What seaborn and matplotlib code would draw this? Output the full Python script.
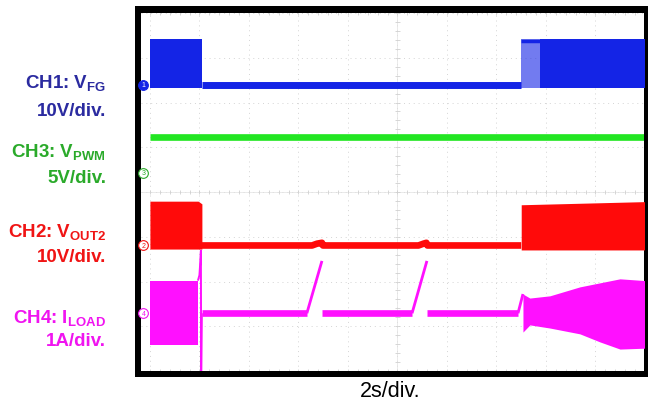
import numpy as np
import pandas as pd
import matplotlib
matplotlib.use("Agg")
import matplotlib.pyplot as plt
import seaborn as sns
from matplotlib.patches import Rectangle

sns.set_style("white")
plt.rcParams["font.family"] = ["Liberation Sans", "DejaVu Sans"]
plt.rcParams["mathtext.fontset"] = "custom"
plt.rcParams["mathtext.rm"] = "Liberation Sans:bold"
plt.rcParams["mathtext.it"] = "Liberation Sans:bold"
plt.rcParams["mathtext.bf"] = "Liberation Sans:bold"
plt.rcParams["lines.solid_capstyle"] = "butt"

# ---- scope settings ----
SEC_PER_DIV = 2.0
N_HDIV = 10
N_VDIV = 8

# channel labels, scales (units/div), screen offsets (div)
ch_names = ["CH1", "CH3", "CH2", "CH4"]
ch_signal = [r"V$_{\mathrm{FG}}$", r"V$_{\mathrm{PWM}}$", r"V$_{\mathrm{OUT2}}$", r"I$_{\mathrm{LOAD}}$"]
ch_scale_text = ["10V/div.", "5V/div.", "10V/div.", "1A/div."]
ch_scale = [10.0, 5.0, 10.0, 1.0]
ch_offset = [2.40, 0.425, -1.195, -2.71]

# ---- CH1: V_FG (V) ----
ch1_line_t = [2.1, 15.0]
ch1_line_v = [0.0, 0.0]
ch1_burst1_t = [0.0, 2.1]
ch1_burst1_hi = [10.3, 10.3]
ch1_burst1_lo = [-0.8, -0.8]
ch1_fade_t = [15.0, 15.76]
ch1_fade_hi = [10.3, 10.3]
ch1_fade_lo = [-0.8, -0.8]
ch1_burst2_t = [15.76, 20.0]
ch1_burst2_hi = [10.3, 10.3]
ch1_burst2_lo = [-0.8, -0.8]

# ---- CH3: V_PWM (V) ----
ch3_t = [0.0, 20.0]
ch3_v = [4.0, 4.0]

# ---- CH2: V_OUT2 (V) ----
ch2_line_t = [2.1, 6.55, 6.75, 6.95, 6.99, 10.85, 11.05, 11.17, 11.21, 15.0]
ch2_line_v = [0.0, 0.0, 0.4, 0.6, 0.0, 0.0, 0.4, 0.6, 0.0, 0.0]
ch2_burst1_t = [0.0, 1.95, 2.1]
ch2_burst1_hi = [9.9, 9.9, 9.3]
ch2_burst1_lo = [-0.8, -0.8, -0.8]
ch2_burst2_t = [15.0, 20.0]
ch2_burst2_hi = [9.1, 9.8]
ch2_burst2_lo = [-1.0, -1.0]

# ---- CH4: I_LOAD (A) ----
ch4_line_t = [2.1, 6.34, np.nan, 6.97, 10.59, np.nan, 11.21, 14.87]
ch4_line_v = [0.0, 0.0, np.nan, 0.0, 0.0, np.nan, 0.0, 0.0]
ch4_ramp_t = [6.34, 6.95, np.nan, 10.59, 11.19, np.nan, 14.87, 15.07]
ch4_ramp_v = [0.0, 1.17, np.nan, 0.0, 1.17, np.nan, 0.0, 0.43]
ch4_burst1_t = [0.0, 1.94]
ch4_burst1_hi = [0.73, 0.73]
ch4_burst1_lo = [-0.72, -0.72]
ch4_spike_t = [1.94, 2.0, 2.03, 2.06, 2.07, 2.1]
ch4_spike_v = [0.73, 0.85, 1.1, 1.40, -1.45, 0.0]
ch4_burst2_t = [15.07, 15.35, 16.16, 17.37, 18.18, 18.99, 20.0]
ch4_burst2_hi = [0.43, 0.34, 0.39, 0.59, 0.68, 0.77, 0.73]
ch4_burst2_lo = [-0.42, -0.26, -0.33, -0.46, -0.64, -0.80, -0.78]

trace_colors = ["#1424E6", "#22E622", "#FF0A0A", "#FF10FF"]
label_colors = ["#2B2BA0", "#2AAA2A", "#F01414", "#F014F0"]

W, H = 648, 402
fig = plt.figure(figsize=(W / 100, H / 100), dpi=100)
fig.patch.set_facecolor("white")


def fx(px):
    return px / W


def fy(py):
    return 1 - py / H


# black screen bezel
fig.add_artist(Rectangle((fx(135), fy(378)), fx(655) - fx(135), fy(7) - fy(378),
                         transform=fig.transFigure, facecolor="black",
                         edgecolor="none", zorder=0))

ax = fig.add_axes([fx(141), fy(372), fx(644) - fx(141), fy(14) - fy(372)])
ax.set_facecolor("white")
ax.set_zorder(1)
t_end = SEC_PER_DIV * N_HDIV
ax.set_xlim(-0.36, 19.96)
ax.set_ylim(-N_VDIV / 2, N_VDIV / 2)
for s in ax.spines.values():
    s.set_visible(False)
ax.set_xticks([])
ax.set_yticks([])

# graticule
grid_kw = dict(color="#d4d4d4", lw=0.7, linestyle=(0, (1, 4)), zorder=1)
for k in range(N_HDIV + 1):
    ax.axvline(k * SEC_PER_DIV, **grid_kw)
for k in range(N_VDIV + 1):
    ax.axhline(k - N_VDIV / 2, **grid_kw)
tick_kw = dict(color="#d0d0d0", lw=0.6, zorder=1)
ax.axvline(t_end / 2, color="#e2e2e2", lw=0.5, zorder=1)
ax.axhline(0, color="#e2e2e2", lw=0.5, zorder=1)
for k in range(N_HDIV * 5 + 1):
    tx = k * SEC_PER_DIV / 5
    for yy in (0, -N_VDIV / 2, N_VDIV / 2):
        ax.plot([tx, tx], [yy - 0.05, yy + 0.05], **tick_kw)
for k in range(N_VDIV * 5 + 1):
    yy = k / 5 - N_VDIV / 2
    ax.plot([t_end / 2 - 0.1, t_end / 2 + 0.1], [yy, yy], **tick_kw)


def to_div(vals, ch):
    return ch_offset[ch] + np.asarray(vals, dtype=float) / ch_scale[ch]


def band(t, hi, lo, ch, alpha=1.0):
    ax.fill_between(t, to_div(hi, ch), to_div(lo, ch), color=trace_colors[ch],
                    lw=0, alpha=alpha, zorder=3)


def trace(t, v, ch, lw):
    t = np.asarray(t, dtype=float)
    y = to_div(v, ch)
    # split at NaN gaps so each segment is drawn on its own
    seg = np.cumsum(np.isnan(t))
    df = pd.DataFrame({"t": t, "y": y, "seg": seg}).dropna()
    for _, part in df.groupby("seg"):
        sns.lineplot(data=part, x="t", y="y", ax=ax, color=trace_colors[ch],
                     lw=lw, estimator=None, sort=False, zorder=3, legend=False)


# CH1
band(ch1_burst1_t, ch1_burst1_hi, ch1_burst1_lo, 0)
band(ch1_fade_t, ch1_fade_hi, ch1_fade_lo, 0, alpha=0.6)
band(ch1_burst2_t, ch1_burst2_hi, ch1_burst2_lo, 0)
trace(ch1_fade_t, [9.8, 9.8], 0, 2.5)
trace(ch1_line_t, ch1_line_v, 0, 5.0)

# CH3
trace(ch3_t, ch3_v, 1, 4.8)

# CH2
band(ch2_burst1_t, ch2_burst1_hi, ch2_burst1_lo, 2)
band(ch2_burst2_t, ch2_burst2_hi, ch2_burst2_lo, 2)
trace(ch2_line_t, ch2_line_v, 2, 4.8)

# CH4
band(ch4_burst1_t, ch4_burst1_hi, ch4_burst1_lo, 3)
band(ch4_burst2_t, ch4_burst2_hi, ch4_burst2_lo, 3)
trace(ch4_spike_t, ch4_spike_v, 3, 1.4)
trace(ch4_line_t, ch4_line_v, 3, 4.8)
trace(ch4_ramp_t, ch4_ramp_v, 3, 2.0)

ax.set_xlabel("")
ax.set_ylabel("")

# channel ground markers
for ch, num in zip(range(4), ["1", "3", "2", "4"]):
    y0 = ch_offset[ch]
    filled = ch == 0
    ax.plot([-0.26], [y0], marker="o", ms=7,
            mfc=trace_colors[ch] if filled else "white",
            mec=trace_colors[ch] if filled else label_colors[ch],
            mew=0.8, zorder=5, clip_on=False)
    ax.text(-0.26, y0, num, fontsize=5, ha="center", va="center",
            color="white" if filled else label_colors[ch], zorder=6,
            clip_on=False)

# channel captions
caption_base = [(88, 116), (157, 183), (237, 262), (323, 346)]
for ch in range(4):
    b1, b2 = caption_base[ch]
    fig.text(fx(106), fy(b1), f"{ch_names[ch]}: {ch_signal[ch]}",
             ha="right", va="baseline", fontsize=13.5, fontweight="bold",
             color=label_colors[ch])
    fig.text(fx(106), fy(b2), ch_scale_text[ch],
             ha="right", va="baseline", fontsize=13.5, fontweight="bold",
             color=label_colors[ch])

fig.text(fx(390), fy(397), "2s/div.", ha="center", va="baseline",
         fontsize=15.5, color="black")

fig.savefig("out.png", dpi=100)
